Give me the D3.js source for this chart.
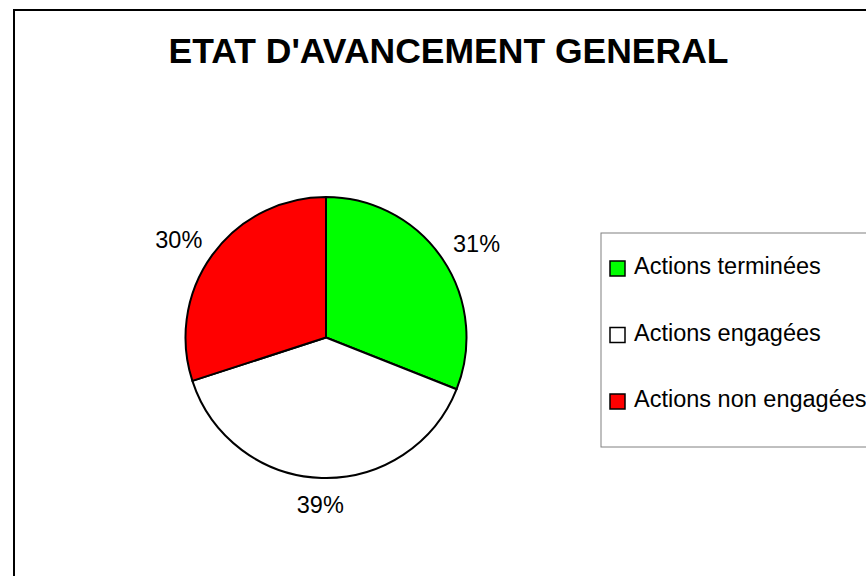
<!DOCTYPE html>
<html>
<head>
<meta charset="utf-8">
<script src="https://cdn.jsdelivr.net/npm/d3@7"></script>
<style>
  body { margin: 0; background: #fff; }
  svg { display: block; font-family: "Liberation Sans", Arial, sans-serif; }
</style>
</head>
<body>
<div class="chart"></div>
<script>
// data
var categories = ["Actions terminées", "Actions engagées", "Actions non engagées"];
var values = [31, 39, 30];
var colors = ["#00ff00", "#ffffff", "#ff0000"];
var chartTitle = "ETAT D'AVANCEMENT GENERAL";

var svgWidth = 866;
var svgHeight = 576;

var svg = d3.select(".chart")
    .append("svg")
    .attr("width", svgWidth)
    .attr("height", svgHeight);

// outer chart frame (runs off the right and bottom edge)
svg.append("rect")
    .attr("x", 14)
    .attr("y", 10)
    .attr("width", 900)
    .attr("height", 600)
    .attr("fill", "#fff")
    .attr("stroke", "#000")
    .attr("stroke-width", 2);

// title
svg.append("text")
    .attr("x", 448.5)
    .attr("y", 63)
    .attr("text-anchor", "middle")
    .style("font-size", "35.5px")
    .style("font-weight", "bold")
    .text(chartTitle);

// pie
var cx = 326, cy = 337.5, radius = 140.5;
var pieGroup = svg.append("g")
    .attr("transform", `translate(${cx}, ${cy})`);

var pie = d3.pie().sort(null).value(d => d);
var arcs = pie(values);
var arc = d3.arc().innerRadius(0).outerRadius(radius);

pieGroup.selectAll("path")
    .data(arcs)
    .enter()
    .append("path")
    .attr("d", arc)
    .attr("fill", (d, i) => colors[i])
    .attr("stroke", "#000")
    .attr("stroke-width", 2)
    .attr("stroke-linejoin", "round");

// percentage labels outside the slices
var total = d3.sum(values);
var labelR = 159;
pieGroup.selectAll(".pct")
    .data(arcs)
    .enter()
    .append("text")
    .attr("class", "pct")
    .attr("x", d => {
        var a = (d.startAngle + d.endAngle) / 2;
        return Math.sin(a) * labelR + Math.sin(a) * 23;
    })
    .attr("y", d => {
        var a = (d.startAngle + d.endAngle) / 2;
        return -Math.cos(a) * labelR - Math.cos(a) * 8.5 + 8.5;
    })
    .attr("text-anchor", "middle")
    .style("font-size", "23.5px")
    .text(d => Math.round(d.value / total * 100) + "%");

// legend
var legend = svg.append("g");
legend.append("rect")
    .attr("x", 601)
    .attr("y", 233)
    .attr("width", 300)
    .attr("height", 214)
    .attr("fill", "#fff")
    .attr("stroke", "#808080")
    .attr("stroke-width", 1);

var rowY = d3.scalePoint()
    .domain(categories)
    .range([274, 407]);

var rows = legend.selectAll(".row")
    .data(categories)
    .enter()
    .append("g")
    .attr("class", "row")
    .attr("transform", d => `translate(0, ${rowY(d)})`);

rows.append("rect")
    .attr("x", 610)
    .attr("y", -13)
    .attr("width", 15)
    .attr("height", 15)
    .attr("fill", (d, i) => colors[i])
    .attr("stroke", "#000")
    .attr("stroke-width", 1.5);

rows.append("text")
    .attr("x", 634)
    .attr("y", 0)
    .style("font-size", "23.5px")
    .text(d => d);
</script>
</body>
</html>
